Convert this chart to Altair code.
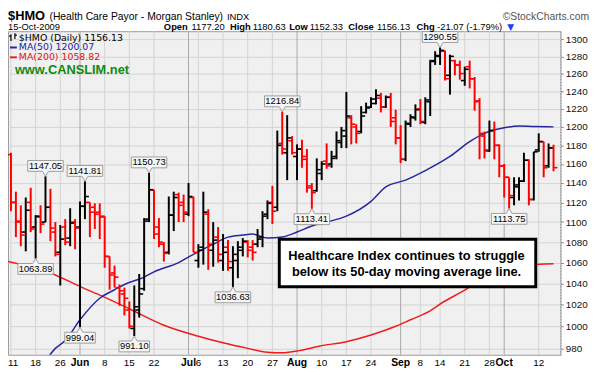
import altair as alt
import pandas as pd

# ---------------- data ----------------
OPEN = [1170, 1120, 1100, 1090, 1120, 1095, 1105, 1100, 1115, 1090,
        1070, 1095, 1084, 1100, 1095, 1116, 1120, 1115, 1110, 1106,
        1066, 1050, 1036, 1030, 1015, 998, 1015, 1035, 1103, 1133,
        1095, 1078, 1070, 1107, 1128, 1120, 1108, 1125, 1062, 1075,
        1108, 1072, 1085, 1062, 1075, 1055, 1062, 1072, 1080, 1075,
        1078, 1085, 1108, 1120, 1115, 1182, 1172, 1185, 1168, 1176,
        1165, 1137, 1132, 1150, 1163, 1160, 1168, 1183, 1190, 1210,
        1200, 1195, 1216, 1222, 1226, 1232, 1222, 1233, 1210, 1188,
        1165, 1203, 1210, 1220, 1205, 1228, 1275, 1280, 1286, 1258,
        1275, 1270, 1252, 1268, 1254, 1229, 1190, 1174, 1196, 1180,
        1158, 1146, 1125, 1136, 1142, 1164, 1123, 1175, 1184, 1158,
        1177.20]
HIGH = [1172, 1131, 1117, 1125, 1135, 1107, 1117, 1147.05, 1134, 1100,
        1097, 1103, 1114, 1103, 1121, 1141.81, 1120, 1119, 1119, 1106,
        1066, 1057, 1039, 1036, 1023, 1038, 1049, 1104, 1150.73, 1133,
        1104, 1080, 1126, 1131, 1130, 1128, 1140, 1126, 1078, 1131,
        1113, 1100, 1095, 1088, 1082, 1076, 1081, 1084, 1082, 1082,
        1093, 1111, 1122, 1137, 1196, 1216.84, 1213, 1190, 1181, 1186,
        1176, 1140, 1166, 1163, 1182, 1174, 1195, 1200, 1239, 1213,
        1203, 1223, 1227, 1233, 1242, 1238, 1235, 1238, 1219, 1202,
        1207, 1214, 1225, 1231, 1233, 1276, 1286, 1290.55, 1287, 1282,
        1276, 1275, 1268, 1275, 1256, 1232, 1195, 1207, 1206, 1181,
        1160, 1146, 1146, 1146, 1172, 1165, 1173, 1193, 1184, 1182,
        1180.63]
LOW = [1111, 1085, 1076, 1071, 1090, 1063.89, 1089, 1100, 1081, 1066,
       1038, 1077, 1076, 1073, 999.04, 1103, 1085, 1093, 1083, 1055,
       1034, 1036, 1019, 1010, 998, 991.10, 1008, 1033, 1100, 1083,
       1075, 1061, 1068, 1091, 1100, 1100, 1106, 1070, 1055, 1058,
       1053, 1056, 1060, 1052, 1052, 1036.63, 1045, 1066, 1065, 1062,
       1075, 1075, 1103, 1098, 1111, 1170, 1143, 1170, 1143, 1156,
       1130, 1113.41, 1131, 1143, 1155, 1156, 1165, 1177, 1177, 1181,
       1182, 1193, 1215, 1221, 1225, 1216, 1221, 1200, 1181, 1161,
       1163, 1200, 1207, 1203, 1203, 1212, 1270, 1270, 1252, 1236,
       1258, 1253, 1246, 1243, 1218, 1165, 1166, 1173, 1165, 1146,
       1125, 1113.75, 1117, 1122, 1141, 1117, 1122, 1173, 1146, 1156,
       1152.33]
CLOSE = [1120, 1101, 1087, 1112, 1093, 1106, 1098, 1115, 1094, 1068,
         1083, 1080, 1099, 1094, 1116, 1126, 1110, 1108, 1105, 1066,
         1048, 1046, 1033, 1026, 1000, 1018, 1030, 1101, 1133, 1088,
         1080, 1069, 1107, 1125, 1117, 1110, 1126, 1070, 1072, 1110,
         1078, 1082, 1068, 1070, 1061, 1068, 1075, 1081, 1072, 1070,
         1083, 1106, 1119, 1111, 1180, 1176, 1188, 1172, 1176, 1168,
         1135, 1130, 1154, 1160, 1158, 1166, 1185, 1196, 1212, 1203,
         1193, 1212, 1221, 1231, 1235, 1222, 1233, 1206, 1188, 1165,
         1204, 1211, 1219, 1206, 1230, 1274, 1281, 1287, 1254, 1280,
         1270, 1260, 1265, 1254, 1228, 1193, 1175, 1196, 1180, 1158,
         1146, 1127, 1138, 1142, 1164, 1123, 1173, 1184, 1156, 1177.20,
         1156.13]
PREV_CLOSE = 1150.0

MA50_IDX = [7.5, 9, 11, 14, 18, 21, 23, 27, 29, 34, 37, 41, 44, 47, 49, 52,
            55, 58, 61, 64, 68, 73, 76, 80, 84, 89, 93, 96, 100, 103, 106, 110]
MA50_VAL = [972, 980, 987, 1006, 1026, 1034, 1039, 1046, 1051, 1060, 1068,
            1078, 1085, 1087, 1088, 1084, 1085, 1090, 1096, 1100, 1106, 1121,
            1136, 1143, 1153, 1168, 1184, 1193, 1199, 1201, 1200.5, 1200.07]
MA200_IDX = [-0.6, 8, 14.5, 18.5, 24.5, 31, 38, 43, 48, 52, 55, 58.5, 62.5,
             68, 73, 78, 81, 84.5, 87.5, 91, 94, 97, 100, 104, 110]
MA200_VAL = [1061, 1050, 1036, 1028, 1015, 1001, 991, 985, 980, 976.5, 976,
             978, 982, 986, 992, 1000, 1006, 1013, 1022, 1031, 1039, 1045,
             1053, 1057, 1058.82]

TICK_IDX = [0, 5, 10, 14, 19, 24, 29, 36, 38, 43, 48, 53, 58, 63, 68, 73,
            79, 83, 87, 92, 97, 100, 107]
TICK_LABEL = ["11", "18", "26", "Jun", "8", "15", "22", "Jul", "6", "13",
              "20", "27", "Aug", "10", "17", "24", "Sep", "8", "14", "21",
              "28", "Oct", "12"]
MONTHS = ["Jun", "Jul", "Aug", "Sep", "Oct"]
Y_TICKS = list(range(980, 1301, 20))

HI_LABEL_IDX = [7, 15, 28, 55, 87]
HI_LABEL_VAL = [1147.05, 1141.81, 1150.73, 1216.84, 1290.55]
LO_LABEL_IDX = [5, 14, 25, 45, 61, 101]
LO_LABEL_VAL = [1063.89, 999.04, 991.10, 1036.63, 1113.41, 1113.75]

# ---------------- tables ----------------
n = len(CLOSE)
bars = pd.DataFrame({"i": list(range(n)), "open": OPEN, "high": HIGH,
                     "low": LOW, "close": CLOSE})
prev = [PREV_CLOSE] + CLOSE[:-1]
bars["dir"] = ["up" if c > p else "down" for c, p in zip(CLOSE, prev)]

ticks = pd.DataFrame({"i": TICK_IDX, "label": TICK_LABEL})
ticks["month"] = ticks["label"].isin(MONTHS)
ticks["first"] = ticks["i"] == ticks["i"].min()

labs = pd.DataFrame({"i": HI_LABEL_IDX + LO_LABEL_IDX,
                     "v": HI_LABEL_VAL + LO_LABEL_VAL,
                     "pos": ["hi"] * len(HI_LABEL_IDX) + ["lo"] * len(LO_LABEL_IDX)})
labs["text"] = [f"{v:.2f}" for v in labs["v"]]
labs["kind"] = labs["pos"] + labs["text"].str.len().astype(str)

ma50 = pd.DataFrame({"i": MA50_IDX, "v": MA50_VAL})
ma200 = pd.DataFrame({"i": MA200_IDX, "v": MA200_VAL})
one = pd.DataFrame({"a": [0]})

# ---------------- scales ----------------
W, H = 560, 328
xs = alt.Scale(domain=[-0.6, 111.4], nice=False, zero=False)
ys = alt.Scale(type="log", domain=[974.3, 1309.8], nice=False, zero=False)
X = alt.X("i:Q", scale=xs, axis=None)
FONT = "Liberation Sans"

yaxis = alt.Axis(orient="right", values=Y_TICKS, format="d", grid=True,
                 gridColor="#d3d3d3", gridWidth=1, domain=True,
                 domainColor="#8a8a8a", domainDash=[1, 2], ticks=True,
                 tickSize=3, tickColor="#8a8a8a", labelFont=FONT,
                 labelFontSize=10, labelColor="#111111", labelPadding=2,
                 title=None, labelOverlap=False, labelBound=False)


def Yf(field):
    return alt.Y(field, type="quantitative", scale=ys, axis=yaxis, title=None)


# vertical gridlines
vgrid_day = alt.Chart(ticks).transform_filter("!datum.month").mark_rule(
    color="#d3d3d3", strokeWidth=1).encode(x=X, y=alt.value(0), y2=alt.value(H))
vgrid_mon = alt.Chart(ticks).transform_filter("datum.month").mark_rule(
    color="#a8a8a8", strokeWidth=1).encode(x=X, y=alt.value(0), y2=alt.value(H))

# moving averages
line50 = alt.Chart(ma50).mark_line(color="#26269e", strokeWidth=1.5,
                                   interpolate="monotone", clip=True).encode(
    x=X, y=Yf("v"))
line200 = alt.Chart(ma200).mark_line(color="#f01c1c", strokeWidth=1.5,
                                     interpolate="monotone", clip=True).encode(
    x=X, y=Yf("v"))

# OHLC bars
col = alt.Color("dir:N", scale=alt.Scale(domain=["up", "down"],
                                         range=["#000000", "#ff0000"]), legend=None)
hl = alt.Chart(bars).mark_rule(strokeWidth=2).encode(
    x=X, y=Yf("low"), y2="high:Q", color=col)
op = alt.Chart(bars).transform_calculate(xl="datum.i - 0.8").mark_rule(
    strokeWidth=1.6).encode(x=alt.X("xl:Q", scale=xs, axis=None), x2="i:Q",
                            y=Yf("open"), color=col)
cl = alt.Chart(bars).transform_calculate(xr="datum.i + 0.8").mark_rule(
    strokeWidth=1.6).encode(x=alt.X("i:Q", scale=xs, axis=None), x2="xr:Q",
                            y=Yf("close"), color=col)

# price call-out boxes
def box_path(half, sign):
    s = sign
    return (f"M0,0 L0.3,{s*0.5} L{half},{s*0.5} L{half},{s*1.6} "
            f"L{-half},{s*1.6} L{-half},{s*0.5} L-0.3,{s*0.5} Z")

shape_scale = alt.Scale(domain=["hi7", "hi6", "lo7", "lo6"],
                        range=[box_path(1.8, -1), box_path(1.55, -1),
                               box_path(1.8, 1), box_path(1.55, 1)])
boxes = alt.Chart(labs).mark_point(filled=True, size=400, fill="#f6f6f6",
                                   stroke="#9c9c9c", strokeWidth=1, opacity=1).encode(
    x=X, y=Yf("v"),
    shape=alt.Shape("kind:N", scale=shape_scale, legend=None))
box_hi_txt = alt.Chart(labs).transform_filter("datum.pos == 'hi'").mark_text(
    font=FONT, fontSize=9.5, dy=-10.5, baseline="middle", color="#000").encode(
    x=X, y=Yf("v"), text="text:N")
box_lo_txt = alt.Chart(labs).transform_filter("datum.pos == 'lo'").mark_text(
    font=FONT, fontSize=9.5, dy=10.5, baseline="middle", color="#000").encode(
    x=X, y=Yf("v"), text="text:N")

# x-axis labels
xl_first = alt.Chart(ticks).transform_filter("datum.first").mark_text(
    font=FONT, fontSize=10, baseline="alphabetic", align="left", dx=-3,
    color="#000").encode(x=X, y=alt.value(H + 11), text="label:N")
xl_day = alt.Chart(ticks).transform_filter("!datum.month && !datum.first").mark_text(
    font=FONT, fontSize=10, baseline="alphabetic", color="#000").encode(
    x=X, y=alt.value(H + 11), text="label:N")
xl_mon = alt.Chart(ticks).transform_filter("datum.month").mark_text(
    font=FONT, fontSize=10.5, fontWeight="bold", baseline="alphabetic",
    color="#000").encode(x=X, y=alt.value(H + 11), text="label:N")


def txt(s, x, y, size, weight="normal", color="#000000", align="left",
        font=FONT):
    return alt.Chart(one).mark_text(text=s, font=font, fontSize=size,
                                    fontWeight=weight, color=color, align=align,
                                    baseline="alphabetic").encode(
        x=alt.value(x), y=alt.value(y))


def seg(x1, x2, y1, y2, color, w):
    return alt.Chart(one).mark_rule(color=color, strokeWidth=w).encode(
        x=alt.value(x1), x2=alt.value(x2), y=alt.value(y1), y2=alt.value(y2))


# annotation box
ann_box = alt.Chart(one).mark_rect(fill="white", stroke="black",
                                   strokeWidth=3).encode(
    x=alt.value(275), x2=alt.value(535), y=alt.value(211), y2=alt.value(259))
ann1 = txt("Healthcare Index continues to struggle", 404, 232, 13, "bold",
           align="center")
ann2 = txt("below its 50-day moving average line.", 404, 248, 13, "bold",
           align="center")

# in-plot legend
LEG = "DejaVu Sans"
legend_layers = [
    seg(3, 3, 3, 10, "#000", 1.2), seg(1, 3, 5, 5, "#000", 1.2),
    seg(7, 7, 2, 8, "#000", 1.2), seg(7, 9, 4, 4, "#000", 1.2),
    txt("$HMO (Daily) 1156.13", 11, 9.5, 9.5, font=LEG),
    seg(2, 9, 16.5, 16.5, "#26269e", 2),
    txt("MA(50) 1200.07", 11, 19.5, 9.5, color="#1a1aa8", font=LEG),
    seg(2, 9, 26.5, 26.5, "#f01c1c", 2),
    txt("MA(200) 1058.82", 11, 29.5, 9.5, color="#e01010", font=LEG),
    txt("www.CANSLIM.net", 7, 43, 13, "bold", color="#108a10"),
]

# header (plot origin is page (8, 29))
hy1, hy2 = -11.5, -1
header_layers = [
    txt("$HMO", 0, hy1 + 0.5, 13, "bold"),
    txt("(Health Care Payor - Morgan Stanley)", 42, hy1, 10.5),
    txt("INDX", 222, hy1, 9.5),
    txt("\u00a9StockCharts.com", 589, hy1, 10.5, color="#555555",
        align="right"),
    txt("15-Oct-2009", 0, hy2, 9.5),
    txt("Open", 158, hy2, 9.5, "bold"),
    txt("1177.20", 186, hy2, 9.5),
    txt("High", 225, hy2, 9.5, "bold"),
    txt("1180.63", 248, hy2, 9.5),
    txt("Low", 285, hy2, 9.5, "bold"),
    txt("1152.33", 306, hy2, 9.5),
    txt("Close", 345, hy2, 9.5, "bold"),
    txt("1156.13", 374, hy2, 9.5),
    txt("Chg", 414, hy2, 9.5, "bold"),
    txt("-21.07 (-1.79%)", 435, hy2, 9.5),
    txt("\u25bc", 506, hy2, 9, color="#1e3cff", font="DejaVu Sans"),
]

chart = alt.layer(
    vgrid_day, vgrid_mon, line200, line50, hl, op, cl,
    boxes, box_hi_txt, box_lo_txt, ann_box, ann1, ann2,
    xl_first, xl_day, xl_mon, *legend_layers, *header_layers
).properties(
    width=W, height=H,
    padding={"left": 0, "top": 21, "right": 32, "bottom": 18},
    autosize=alt.AutoSizeParams(type="none"),
    background="white",
).configure_view(fill="#f0f0f0", stroke="#9a9a9a", strokeWidth=1)

chart.save("out.html", embed_options={"renderer": "svg", "actions": False})
